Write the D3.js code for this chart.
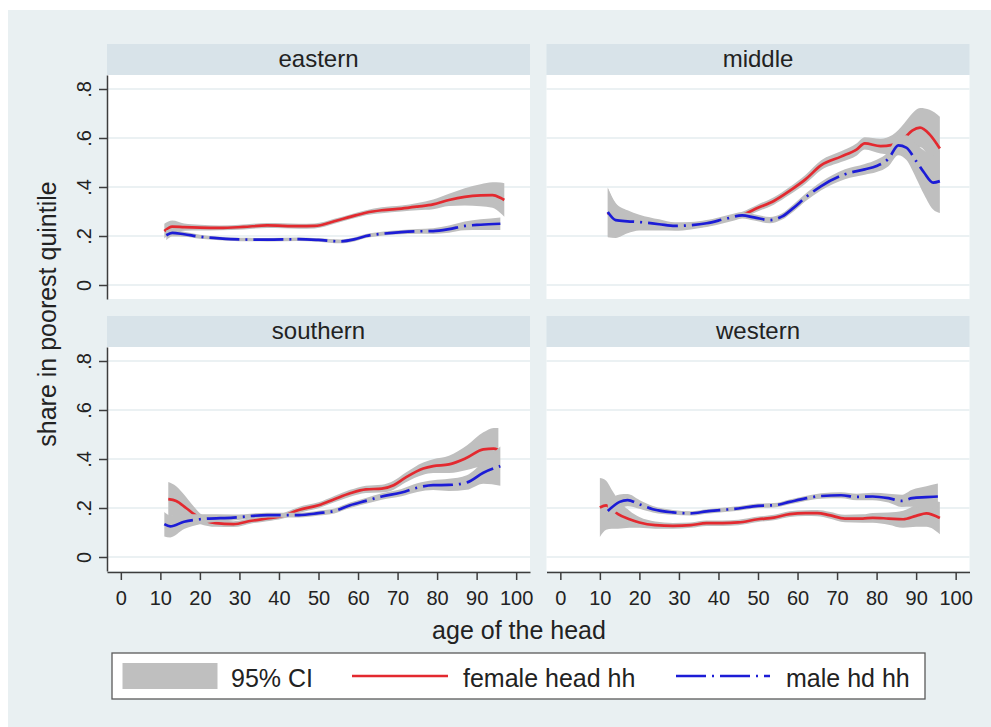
<!DOCTYPE html>
<html>
<head>
<meta charset="utf-8">
<script src="https://cdn.jsdelivr.net/npm/d3@7"></script>
<style>
  html, body { margin: 0; padding: 0; background: #ffffff; }
  svg { display: block; }
  text { font-family: "Liberation Sans", Arial, Helvetica, sans-serif; fill: #222; }
</style>
</head>
<body>
<svg id="chart" width="991" height="727"></svg>
<script>
// Share of households in the poorest quintile by age of the household head,
// lowess smooths with 95% confidence bands, one panel per region.

const regions = ["eastern", "middle", "southern", "western"];
const xTicks = [0, 10, 20, 30, 40, 50, 60, 70, 80, 90, 100];
const yTicks = [0, 0.2, 0.4, 0.6, 0.8];
const yTickLabels = ["0", ".2", ".4", ".6", ".8"];
const legendLabels = ["95% CI", "female head hh", "male hd hh"];

// eastern
const eastFemaleAge = [11, 13, 16, 20, 25, 31, 37, 45, 49, 54, 58, 62, 66, 71, 75, 79, 83, 87, 91, 94, 96, 97];
const eastFemale    = [0.220, 0.238, 0.236, 0.234, 0.233, 0.237, 0.243, 0.240, 0.241, 0.260, 0.278, 0.295, 0.305, 0.312, 0.320, 0.329, 0.347, 0.360, 0.366, 0.367, 0.356, 0.347];
const eastFemaleCI  = [0.030, 0.025, 0.015, 0.012, 0.010, 0.010, 0.010, 0.010, 0.010, 0.010, 0.010, 0.010, 0.012, 0.012, 0.015, 0.020, 0.025, 0.035, 0.045, 0.052, 0.062, 0.068];
const eastMaleAge   = [11.5, 13, 16, 20, 25, 30, 37, 45, 50, 55.5, 59, 62, 66, 71, 75, 79, 83, 87, 91, 96];
const eastMale      = [0.203, 0.213, 0.207, 0.197, 0.190, 0.186, 0.185, 0.187, 0.184, 0.178, 0.186, 0.200, 0.209, 0.216, 0.219, 0.220, 0.228, 0.241, 0.246, 0.250];
const eastMaleCI    = [0.020, 0.015, 0.010, 0.008, 0.007, 0.007, 0.007, 0.007, 0.007, 0.008, 0.008, 0.008, 0.008, 0.009, 0.010, 0.012, 0.015, 0.018, 0.022, 0.026];

// middle
const midFemaleAge = [12, 14, 17, 20, 25, 29, 33, 37, 42, 46, 50, 54, 58, 62, 66, 71, 75, 77, 81, 84, 87, 89, 91, 93.4, 96];
const midFemale    = [0.295, 0.262, 0.256, 0.252, 0.242, 0.236, 0.240, 0.250, 0.268, 0.286, 0.315, 0.343, 0.384, 0.431, 0.489, 0.524, 0.554, 0.578, 0.567, 0.572, 0.600, 0.630, 0.642, 0.615, 0.557];
const midFemaleCI  = [0.100, 0.070, 0.045, 0.030, 0.020, 0.015, 0.013, 0.013, 0.013, 0.013, 0.014, 0.015, 0.016, 0.018, 0.020, 0.022, 0.025, 0.025, 0.030, 0.040, 0.060, 0.070, 0.080, 0.100, 0.130];
const midMaleAge   = [12, 14, 17, 20, 25, 29, 33, 37, 42, 46, 49, 53, 56, 59, 62, 66, 72, 77, 80, 83, 85.5, 87.5, 90, 92, 94.3, 96];
const midMale      = [0.298, 0.265, 0.260, 0.257, 0.248, 0.241, 0.244, 0.252, 0.271, 0.284, 0.276, 0.265, 0.279, 0.315, 0.357, 0.404, 0.452, 0.472, 0.486, 0.515, 0.570, 0.561, 0.506, 0.459, 0.418, 0.424];
const midMaleCI    = [0.100, 0.070, 0.045, 0.030, 0.020, 0.015, 0.013, 0.013, 0.013, 0.013, 0.013, 0.013, 0.013, 0.015, 0.015, 0.017, 0.020, 0.022, 0.025, 0.030, 0.040, 0.050, 0.070, 0.090, 0.110, 0.130];

// southern
const southFemaleAge = [12, 14, 16.5, 18.5, 20, 24, 28.5, 33, 37, 41, 45, 50, 54, 58, 62, 66, 69, 72, 76.5, 79, 83, 87.5, 91.7, 94.3, 95.5];
const southFemale    = [0.236, 0.229, 0.200, 0.175, 0.157, 0.138, 0.134, 0.148, 0.157, 0.168, 0.192, 0.211, 0.236, 0.260, 0.276, 0.279, 0.293, 0.324, 0.361, 0.371, 0.378, 0.405, 0.439, 0.442, 0.437];
const southFemaleCI  = [0.070, 0.060, 0.045, 0.030, 0.022, 0.015, 0.012, 0.011, 0.011, 0.011, 0.012, 0.012, 0.013, 0.014, 0.015, 0.016, 0.018, 0.020, 0.025, 0.028, 0.035, 0.050, 0.070, 0.085, 0.090];
const southMaleAge   = [11, 12.5, 16, 20, 28.5, 37, 45, 50, 54, 58, 62, 66, 71, 75, 79, 83, 87.5, 91.7, 96];
const southMale      = [0.134, 0.125, 0.144, 0.154, 0.161, 0.171, 0.171, 0.179, 0.188, 0.211, 0.229, 0.247, 0.263, 0.283, 0.293, 0.294, 0.304, 0.344, 0.371];
const southMaleCI    = [0.050, 0.045, 0.030, 0.020, 0.012, 0.010, 0.010, 0.010, 0.010, 0.011, 0.012, 0.013, 0.015, 0.018, 0.020, 0.025, 0.030, 0.045, 0.080];

// western
const westFemaleAge = [10, 11.6, 13, 14.6, 17.5, 20, 24, 28.5, 33, 37, 41, 45, 50, 54, 58, 62, 65, 68, 72, 76.5, 79, 83, 86.7, 90, 92.6, 96];
const westFemale    = [0.202, 0.211, 0.195, 0.175, 0.154, 0.141, 0.130, 0.127, 0.130, 0.138, 0.138, 0.141, 0.154, 0.161, 0.175, 0.179, 0.179, 0.171, 0.157, 0.157, 0.160, 0.157, 0.154, 0.168, 0.178, 0.159];
const westFemaleCI  = [0.120, 0.100, 0.080, 0.060, 0.035, 0.022, 0.015, 0.012, 0.011, 0.011, 0.011, 0.011, 0.011, 0.011, 0.012, 0.012, 0.013, 0.014, 0.015, 0.017, 0.020, 0.025, 0.035, 0.045, 0.055, 0.066];
const westMaleAge   = [12, 15, 17, 20, 23.4, 28.5, 33, 37, 41, 45, 50, 54, 58, 62, 66, 71, 75, 79, 83, 86.3, 89, 92.6, 95.5];
const westMale      = [0.188, 0.225, 0.232, 0.215, 0.195, 0.182, 0.178, 0.186, 0.192, 0.198, 0.209, 0.211, 0.225, 0.239, 0.249, 0.252, 0.245, 0.247, 0.240, 0.229, 0.240, 0.244, 0.247];
const westMaleCI    = [0.040, 0.030, 0.025, 0.018, 0.013, 0.010, 0.009, 0.009, 0.009, 0.009, 0.009, 0.009, 0.010, 0.010, 0.011, 0.012, 0.013, 0.015, 0.018, 0.025, 0.035, 0.045, 0.053];

// ---- assemble panel records from the arrays above ----
function series(age, val, ci) {
  return age.map((a, i) => ({ age: a, v: val[i], lo: val[i] - ci[i], hi: val[i] + ci[i] }));
}
const panelData = [
  { name: regions[0], col: 0, row: 0, female: series(eastFemaleAge, eastFemale, eastFemaleCI),   male: series(eastMaleAge, eastMale, eastMaleCI) },
  { name: regions[1], col: 1, row: 0, female: series(midFemaleAge, midFemale, midFemaleCI),       male: series(midMaleAge, midMale, midMaleCI) },
  { name: regions[2], col: 0, row: 1, female: series(southFemaleAge, southFemale, southFemaleCI), male: series(southMaleAge, southMale, southMaleCI) },
  { name: regions[3], col: 1, row: 1, female: series(westFemaleAge, westFemale, westFemaleCI),    male: series(westMaleAge, westMale, westMaleCI) }
];

// ---- layout ----
const W = 991, H = 727;
const colX = [107, 546.5];
const rowY = [44, 316];
const stripH = 31;
const plotW = 423, plotH = 224;

const colors = {
  page: "#e9f0f2",
  strip: "#d8e3e9",
  plot: "#ffffff",
  grid: "#e5ecef",
  axis: "#3d3d3d",
  ci: "#bfbfbf",
  female: "#e3292f",
  male: "#1c1cd6"
};
const maleDash = "30,6,2,6";

const svg = d3.select("#chart");
svg.append("rect").attr("x", 8).attr("y", 10).attr("width", W - 8).attr("height", H - 10).attr("fill", colors.page);

const x = d3.scaleLinear().domain([-3.5, 103.5]).range([0, plotW]);
const yPad = 14 / 245;
const y = d3.scaleLinear().domain([-yPad, 0.8 + yPad]).range([plotH, 0]);

const area = d3.area().x(d => x(d.age)).y0(d => y(d.lo)).y1(d => y(d.hi)).curve(d3.curveMonotoneX);
const line = d3.line().x(d => x(d.age)).y(d => y(d.v)).curve(d3.curveMonotoneX);

panelData.forEach(p => {
  const gx = colX[p.col], gy = rowY[p.row];
  const g = svg.append("g").attr("transform", `translate(${gx},${gy})`);

  // header strip
  g.append("rect").attr("x", 0).attr("y", 0).attr("width", plotW).attr("height", stripH).attr("fill", colors.strip);
  g.append("text").attr("x", plotW / 2).attr("y", 23).attr("text-anchor", "middle")
    .style("font-size", "24px").text(p.name);

  const pg = g.append("g").attr("transform", `translate(0,${stripH})`);
  pg.append("rect").attr("width", plotW).attr("height", plotH).attr("fill", colors.plot);

  // horizontal grid
  pg.selectAll("line.grid").data(yTicks).join("line")
    .attr("class", "grid")
    .attr("x1", 0).attr("x2", plotW)
    .attr("y1", d => y(d)).attr("y2", d => y(d))
    .attr("stroke", colors.grid).attr("stroke-width", 1.5);

  // bands and smooths: female first, then male on top
  pg.append("path").datum(p.female).attr("d", area).attr("fill", colors.ci);
  pg.append("path").datum(p.female).attr("d", line).attr("fill", "none")
    .attr("stroke", colors.female).attr("stroke-width", 2.7).attr("stroke-linejoin", "round");
  pg.append("path").datum(p.male).attr("d", area).attr("fill", colors.ci);
  pg.append("path").datum(p.male).attr("d", line).attr("fill", "none")
    .attr("stroke", colors.male).attr("stroke-width", 2.7).attr("stroke-dasharray", maleDash);

  // y axis on the left column
  if (p.col === 0) {
    const ay = pg.append("g")
      .call(d3.axisLeft(y).tickValues(yTicks).tickSize(8).tickSizeOuter(0).tickFormat((d, i) => yTickLabels[i]));
    ay.select(".domain").attr("stroke", colors.axis).attr("stroke-width", 1.5);
    ay.selectAll(".tick line").attr("stroke", colors.axis).attr("stroke-width", 1.5);
    ay.selectAll(".tick text")
      .attr("x", null).attr("dy", null)
      .attr("text-anchor", "middle")
      .attr("transform", "translate(-16,0) rotate(-90)")
      .style("font-size", "20px").style("font-family", null).attr("fill", "#222");
  }
  // x axis on the bottom row
  if (p.row === 1) {
    const ax = pg.append("g").attr("transform", `translate(0,${plotH + 1})`)
      .call(d3.axisBottom(x).tickValues(xTicks).tickSize(8).tickSizeOuter(0).tickPadding(11));
    ax.select(".domain").attr("stroke", colors.axis).attr("stroke-width", 1.5);
    ax.selectAll(".tick line").attr("stroke", colors.axis).attr("stroke-width", 1.5);
    ax.selectAll(".tick text").style("font-size", "20px").style("font-family", null).attr("fill", "#222");
  }
});

// axis titles
svg.append("text").attr("x", 519).attr("y", 639).attr("text-anchor", "middle")
  .style("font-size", "25px").text("age of the head");
svg.append("text").attr("transform", "translate(56,314) rotate(-90)").attr("text-anchor", "middle")
  .style("font-size", "25px").text("share in poorest quintile");

// legend
const lg = svg.append("g");
lg.append("rect").attr("x", 112).attr("y", 653).attr("width", 813).attr("height", 46)
  .attr("fill", "#ffffff").attr("stroke", "#5a5a5a").attr("stroke-width", 1.3);
lg.append("rect").attr("x", 122.5).attr("y", 663).attr("width", 95).attr("height", 26).attr("fill", colors.ci);
lg.append("text").attr("x", 231).attr("y", 686.5).style("font-size", "25px").text(legendLabels[0]);
lg.append("line").attr("x1", 352).attr("x2", 448).attr("y1", 676).attr("y2", 676)
  .attr("stroke", colors.female).attr("stroke-width", 2.7);
lg.append("text").attr("x", 463).attr("y", 686.5).style("font-size", "25px").text(legendLabels[1]);
lg.append("line").attr("x1", 676).attr("x2", 770).attr("y1", 676).attr("y2", 676)
  .attr("stroke", colors.male).attr("stroke-width", 2.7).attr("stroke-dasharray", maleDash);
lg.append("text").attr("x", 786).attr("y", 686.5).style("font-size", "25px").text(legendLabels[2]);
</script>
</body>
</html>
